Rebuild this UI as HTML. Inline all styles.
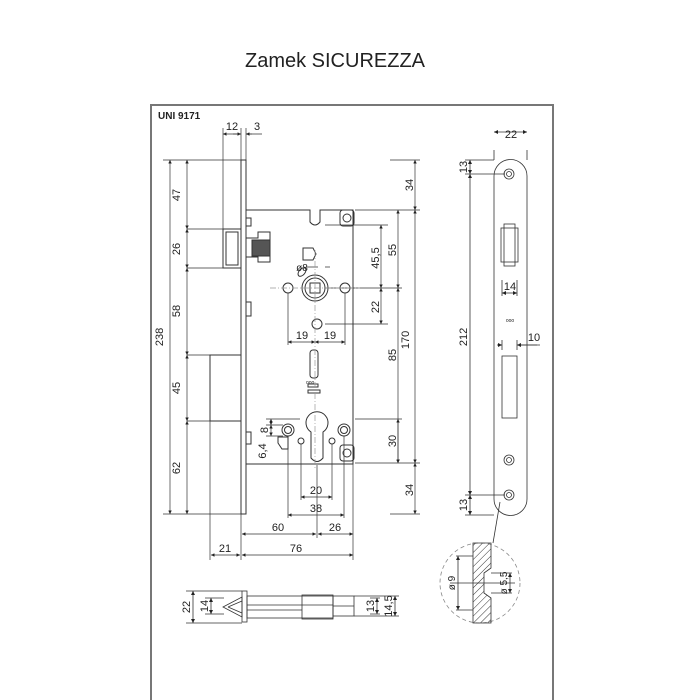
<!DOCTYPE html>
<html><head><meta charset="utf-8"><style>
html,body{margin:0;padding:0;background:#fff;}
svg{display:block}
text{font-family:"Liberation Sans",sans-serif;fill:#222}
</style></head><body>
<svg width="700" height="700" viewBox="0 0 700 700" xmlns="http://www.w3.org/2000/svg">
<defs>
<marker id="a" viewBox="0 0 6 6" refX="6" refY="3" markerWidth="5" markerHeight="5" orient="auto-start-reverse"><path d="M0,0L6,3L0,6z" fill="#222"/></marker>
<pattern id="h" width="5" height="5" patternUnits="userSpaceOnUse" patternTransform="rotate(45)"><line x1="0" y1="0" x2="0" y2="5" stroke="#333" stroke-width="1"/></pattern>
</defs>
<text x="335" y="67" font-size="20" text-anchor="middle" fill="#333">Zamek SICUREZZA</text>
<g stroke="#777" stroke-width="2" fill="none"><path d="M151,700V105H553V700"/></g>
<text x="158" y="119" font-size="10" font-weight="bold">UNI 9171</text>

<g stroke="#333" stroke-width="1" fill="none">
<!-- faceplate -->
<rect x="241" y="160" width="5" height="354" fill="#fff"/>
<!-- case -->
<path d="M246,210H310V222Q315,228 320,222V210H353V464H246"/>
<rect x="340" y="210" width="14" height="16" rx="3"/>
<circle cx="347" cy="218" r="4"/><circle cx="347" cy="453" r="4"/>
<rect x="340" y="445" width="14" height="16" rx="3"/>
<!-- latch -->
<rect x="223" y="229" width="18" height="39"/>
<rect x="226" y="232" width="12" height="33"/>
<path d="M246,238H258V232H270V262H258V257H246"/>
<rect x="252" y="240" width="18" height="16" fill="#555"/>
<rect x="246" y="218" width="5" height="8"/><rect x="246" y="302" width="5" height="14"/><rect x="246" y="432" width="5" height="12"/>
<!-- deadbolt -->
<rect x="210" y="355" width="31" height="66"/>
<!-- spindle hub -->
<circle cx="315" cy="288" r="13"/><circle cx="315" cy="288" r="10"/>
<rect x="310" y="283" width="10" height="10"/>
<circle cx="288" cy="288" r="5"/><circle cx="345" cy="288" r="5"/>
<circle cx="317" cy="324" r="5"/>
<path d="M303,248h10l3,6l-3,6h-10z"/>
<ellipse cx="302" cy="272" rx="3" ry="5" transform="rotate(40 302 272)"/>
<rect x="310" y="350" width="8" height="28" rx="3"/>
<rect x="308" y="384" width="10" height="3"/><rect x="308" y="390" width="12" height="3"/>
<!-- cylinder -->
<path d="M311,432A11,11 0 1 1 323,432V458Q317,465 311,458Z"/>
<circle cx="288" cy="430" r="6"/><circle cx="288" cy="430" r="3.5"/>
<circle cx="344" cy="430" r="6"/><circle cx="344" cy="430" r="3.5"/>
<circle cx="301" cy="441" r="3"/><circle cx="332" cy="441" r="3"/>
<path d="M278,437h10v12h-6l-4,-6z"/>
</g>
<text x="306" y="384" font-size="5" fill="#777">ᴏᴏᴏ</text>

<!-- dimension lines -->
<g stroke="#333" stroke-width="0.7" fill="none">
<path d="M163,160H241M163,514H241M187,229H223M187,268H223M187,355H210M187,421H210"/>
<path d="M223,128V229M241,128V160M246,128V160"/>
<path d="M170,160V514" marker-start="url(#a)" marker-end="url(#a)"/>
<path d="M187,160V229" marker-start="url(#a)" marker-end="url(#a)"/>
<path d="M187,229V268" marker-start="url(#a)" marker-end="url(#a)"/>
<path d="M187,268V355" marker-start="url(#a)" marker-end="url(#a)"/>
<path d="M187,355V421" marker-start="url(#a)" marker-end="url(#a)"/>
<path d="M187,421V514" marker-start="url(#a)" marker-end="url(#a)"/>
<path d="M223,134H241" marker-start="url(#a)" marker-end="url(#a)"/>
<path d="M246,134H262M233,134H241" />
<path d="M246,134H252" marker-start="url(#a)"/>
<!-- right dims -->
<path d="M390,160H420M355,210H420M325,225H388M325,288H402M325,324H388M355,419H402M355,463H420M390,514H420" stroke-dasharray="none"/>
<path d="M415,160V210" marker-start="url(#a)" marker-end="url(#a)"/>
<path d="M415,210V463" marker-start="url(#a)" marker-end="url(#a)"/>
<path d="M415,463V514" marker-start="url(#a)" marker-end="url(#a)"/>
<path d="M398,210V288" marker-start="url(#a)" marker-end="url(#a)"/>
<path d="M398,288V463" marker-start="url(#a)" marker-end="url(#a)"/>
<path d="M381,225V288" marker-start="url(#a)" marker-end="url(#a)"/>
<path d="M381,288V324" marker-start="url(#a)" marker-end="url(#a)"/>
<path d="M398,419V463" marker-start="url(#a)" marker-end="url(#a)"/>
<!-- 19 19 -->
<path d="M288,293V345M345,293V345"/>
<path d="M288,342H315" marker-start="url(#a)" marker-end="url(#a)"/>
<path d="M315,342H345" marker-start="url(#a)" marker-end="url(#a)"/>
<path d="M307,267H318M325,267H330" />
<!-- 8 6.4 -->
<path d="M266,419H300M266,425H283M266,436H283"/>
<path d="M271,419V425" marker-start="url(#a)" marker-end="url(#a)"/>
<path d="M271,425V436" marker-start="url(#a)" marker-end="url(#a)"/>
<!-- bottom dims -->
<path d="M301,444V500M332,444V500M288,436V518M344,436V518M317,465V538M353,464V560M241,514V560M210,421V560"/>
<path d="M301,497H332" marker-start="url(#a)" marker-end="url(#a)"/>
<path d="M288,515H344" marker-start="url(#a)" marker-end="url(#a)"/>
<path d="M242,534H316" marker-start="url(#a)" marker-end="url(#a)"/>
<path d="M318,534H353" marker-start="url(#a)" marker-end="url(#a)"/>
<path d="M211,555H240" marker-start="url(#a)" marker-end="url(#a)"/>
<path d="M242,555H353" marker-start="url(#a)" marker-end="url(#a)"/>
<path d="M315,250V470M270,288H360" stroke-dasharray="6,2,1,2" stroke="#999"/>
</g>

<g font-size="11">
<text x="232" y="130" text-anchor="middle">12</text>
<text x="257" y="130" text-anchor="middle">3</text>
<text transform="translate(180,195) rotate(-90)" text-anchor="middle">47</text>
<text transform="translate(180,249) rotate(-90)" text-anchor="middle">26</text>
<text transform="translate(180,311) rotate(-90)" text-anchor="middle">58</text>
<text transform="translate(180,388) rotate(-90)" text-anchor="middle">45</text>
<text transform="translate(180,468) rotate(-90)" text-anchor="middle">62</text>
<text transform="translate(163,337) rotate(-90)" text-anchor="middle">238</text>
<text transform="translate(413,185) rotate(-90)" text-anchor="middle">34</text>
<text transform="translate(413,490) rotate(-90)" text-anchor="middle">34</text>
<text transform="translate(409,340) rotate(-90)" text-anchor="middle">170</text>
<text transform="translate(396,250) rotate(-90)" text-anchor="middle">55</text>
<text transform="translate(396,355) rotate(-90)" text-anchor="middle">85</text>
<text transform="translate(396,441) rotate(-90)" text-anchor="middle">30</text>
<text transform="translate(379,258) rotate(-90)" text-anchor="middle">45,5</text>
<text transform="translate(379,307) rotate(-90)" text-anchor="middle">22</text>
<text transform="translate(268,430) rotate(-90)" text-anchor="middle">8</text>
<text transform="translate(266,451) rotate(-90)" text-anchor="middle">6,4</text>
<text x="302" y="339" text-anchor="middle">19</text>
<text x="330" y="339" text-anchor="middle">19</text>
<text x="302" y="271" text-anchor="middle" font-size="10">ø8</text>
<text x="316" y="494" text-anchor="middle">20</text>
<text x="316" y="512" text-anchor="middle">38</text>
<text x="278" y="531" text-anchor="middle">60</text>
<text x="335" y="531" text-anchor="middle">26</text>
<text x="225" y="552" text-anchor="middle">21</text>
<text x="296" y="552" text-anchor="middle">76</text>
</g>

<!-- bottom view -->
<g stroke="#333" stroke-width="0.8" fill="none">
<rect x="242" y="591" width="5" height="31"/>
<rect x="247" y="596" width="86" height="22"/>
<rect x="302" y="595" width="31" height="24"/>
<rect x="333" y="596" width="21" height="20"/>
<path d="M247,605H333M247,610H302M333,606H354"/>
<path d="M223,607L242,597V617Z"/><path d="M228,607L242,601M228,607L242,613"/>
<path d="M186,591H242M186,623H242M205,598H224M205,614H224M354,596H399M354,616H399M370,598H380M370,614H380"/>
<path d="M193,591V623" marker-start="url(#a)" marker-end="url(#a)"/>
<path d="M211,598V614" marker-start="url(#a)" marker-end="url(#a)"/>
<path d="M377,598V614" marker-start="url(#a)" marker-end="url(#a)"/>
<path d="M395,596V616" marker-start="url(#a)" marker-end="url(#a)"/>
</g>
<g font-size="11">
<text transform="translate(190,607) rotate(-90)" text-anchor="middle">22</text>
<text transform="translate(208,606) rotate(-90)" text-anchor="middle">14</text>
<text transform="translate(374,606) rotate(-90)" text-anchor="middle">13</text>
<text transform="translate(392,606) rotate(-90)" text-anchor="middle">14,5</text>
</g>

<!-- strike plate -->
<g stroke="#333" stroke-width="0.8" fill="none">
<path d="M494,176A16.5,16.5 0 0 1 527,176V499A16.5,16.5 0 0 1 494,499Z" fill="#fff"/>
<circle cx="509" cy="174" r="5"/><circle cx="509" cy="174" r="2.5"/>
<circle cx="509" cy="460" r="5"/><circle cx="509" cy="460" r="2.5"/>
<circle cx="509" cy="495" r="5"/><circle cx="509" cy="495" r="2.5"/>
<rect x="501" y="228" width="17" height="34"/><rect x="504" y="224" width="11" height="42"/>
<rect x="502" y="356" width="15" height="62"/>
<path d="M494,160V150M527,160V150M465,160H494M465,174H505M465,495H505M465,515H494M502,280V296M517,280V296M502,350V340M517,350V340"/>
<path d="M494,132H527" marker-start="url(#a)" marker-end="url(#a)"/>
<path d="M470,160V174" marker-start="url(#a)" marker-end="url(#a)"/>
<path d="M470,174V495" marker-start="url(#a)" marker-end="url(#a)"/>
<path d="M470,495V515" marker-start="url(#a)" marker-end="url(#a)"/>
<path d="M502,293H517" marker-start="url(#a)" marker-end="url(#a)"/>
<path d="M497,345H502" marker-end="url(#a)"/><path d="M537,345H517" marker-end="url(#a)"/><path d="M517,345H540"/>
<!-- detail -->
<circle cx="480" cy="583" r="40" stroke-dasharray="4,3" stroke="#888"/>
<path d="M500,502L493,543"/>
<path d="M473,543H491V568L484,573V593L491,598V623H473Z" fill="url(#h)"/>
<path d="M473,556H456M473,610H456M491,573H512M491,593H512M450,583H515" />
<path d="M458,556V610" marker-start="url(#a)" marker-end="url(#a)"/>
<path d="M510,573V593" marker-start="url(#a)" marker-end="url(#a)"/>
</g>
<text x="510" y="322" font-size="5" text-anchor="middle" fill="#555">ᴏᴏᴏ</text>
<g font-size="11">
<text x="511" y="138" text-anchor="middle">22</text>
<text x="510" y="290" text-anchor="middle">14</text>
<text x="534" y="341" text-anchor="middle">10</text>
<text transform="translate(467,167) rotate(-90)" text-anchor="middle">13</text>
<text transform="translate(467,337) rotate(-90)" text-anchor="middle">212</text>
<text transform="translate(467,505) rotate(-90)" text-anchor="middle">13</text>
<text transform="translate(455,583) rotate(-90)" text-anchor="middle" font-size="10">ø 9</text>
<text transform="translate(507,583) rotate(-90)" text-anchor="middle" font-size="10">ø 5,5</text>
</g>
</svg>
</body></html>
